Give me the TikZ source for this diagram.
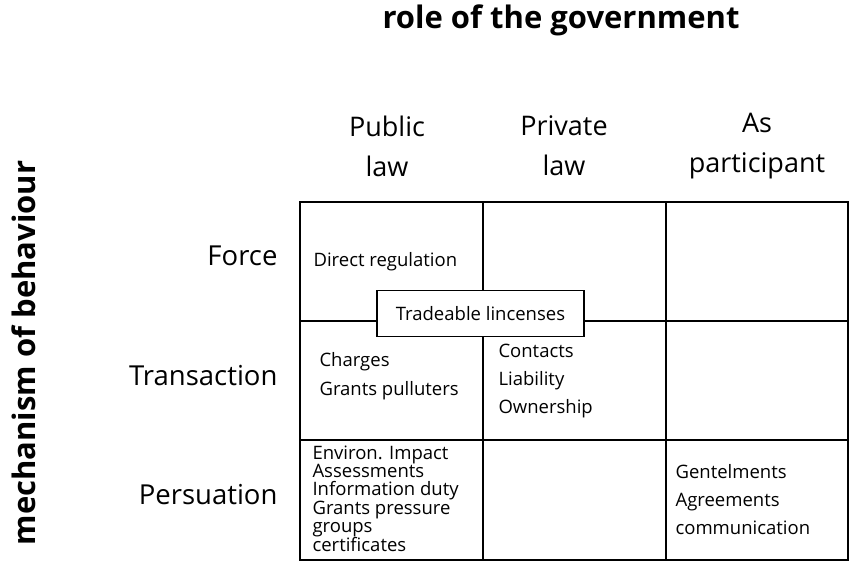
\documentclass[tikz,border=0pt]{standalone}
\usepackage{fontspec}
\setmainfont{Open Sans}
\begin{document}
\begin{tikzpicture}[x=1pt,y=-1pt,
  cell/.style={anchor=west,font=\fontsize{18.5}{20}\selectfont},
  head/.style={font=\fontsize{27}{40}\selectfont,align=center},
  rowl/.style={anchor=east,font=\fontsize{27.5}{30}\selectfont}]
\useasboundingbox (0,0) rectangle (850,563);
\node[font=\fontsize{31}{34}\bfseries\selectfont] (title) at (561,20) {role of the government};
\node[rotate=90,font=\fontsize{31}{34}\bfseries\selectfont] (side) at (24,353) {mechanism of behaviour};
\draw[line width=1.5pt] (300,202) rectangle (848,560);
\draw[line width=1.5pt] (483,202) -- (483,560) (666,202) -- (666,560)
  (300,321) -- (848,321) (300,440) -- (848,440);
\node[head] (c1) at (387,146) {Public\\law};
\node[head] (c2) at (564,146) {Private\\law};
\node[head] (c3) at (757,146) {As\\participant};
\node[rowl] (r1) at (281,256) {Force};
\node[rowl] (r2) at (281,376) {Transaction};
\node[rowl] (r3) at (281,495) {Persuation};
\node[cell] (dr) at (310,262) {Direct regulation};
\node[draw,line width=1.5pt,fill=white,minimum width=207,minimum height=46,font=\fontsize{18.5}{20}\selectfont] (tl) at (480.5,313.5) {Tradeable lincenses};
\node[cell,align=left,font=\fontsize{18.5}{29}\selectfont] (ch) at (316,376) {Charges\\Grants pulluters};
\node[cell,align=left,font=\fontsize{18.5}{28}\selectfont] (co) at (495,381) {Contacts\\Liability\\Ownership};
\node[cell,align=left,font=\fontsize{18.5}{17.8}\selectfont] (pe) at (309,499) {Environ. Impact\\Assessments\\Information duty\\Grants pressure\\groups\\certificates};
\node[cell,align=left,font=\fontsize{18.5}{28}\selectfont] (ge) at (672,500) {Gentelments\\Agreements\\communication};
\end{tikzpicture}
\end{document}
